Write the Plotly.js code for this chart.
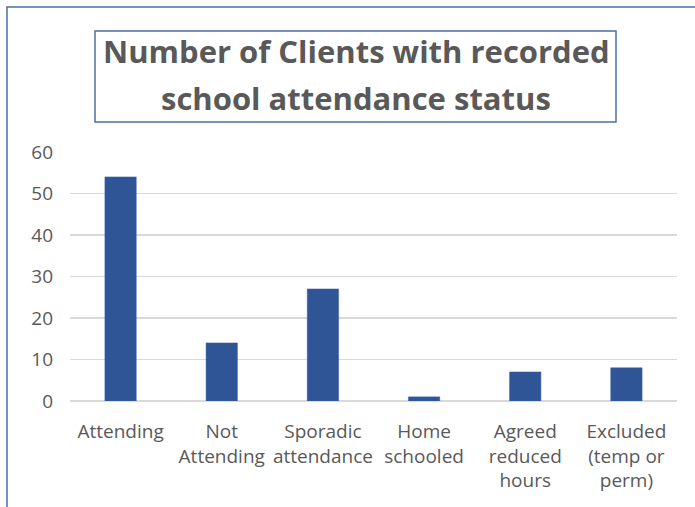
<!DOCTYPE html>
<html>
<head>
<meta charset="utf-8">
<script src="https://cdn.plot.ly/plotly-3.0.1.min.js"></script>
<style>html,body{margin:0;padding:0;background:#fff;}#chart{width:695px;height:507px;}</style>
</head>
<body>
<div id="chart"></div>
<script>
const categories = ["Attending", "Not<br>Attending", "Sporadic<br>attendance", "Home<br>schooled", "Agreed<br>reduced<br>hours", "Excluded<br>(temp or<br>perm)"];
const clientCounts = [54, 14, 27, 1, 7, 8];
const yTickValues = [0, 10, 20, 30, 40, 50, 60];
const titleLines = ["Number of Clients with recorded", "school attendance status"];

const FONT = "'Open Sans', 'Noto Sans', sans-serif";
const TXT = "#595959";

const trace = {
  type: "bar",
  x: categories,
  y: clientCounts,
  marker: { color: "#2F5597", line: { color: "#3A63A8", width: 0.5 } },
  hoverinfo: "none"
};

const layout = {
  width: 695,
  height: 507,
  margin: { l: 70, r: 18, t: 152, b: 106 },
  paper_bgcolor: "#ffffff",
  plot_bgcolor: "#ffffff",
  showlegend: false,
  bargap: 0.69,
  font: { family: FONT, color: TXT, size: 19 },
  xaxis: {
    type: "category",
    showgrid: false,
    showline: false,
    zeroline: false,
    ticks: "",
    tickfont: { family: FONT, size: 19, color: TXT },
    ticklabelstandoff: 17
  },
  yaxis: {
    range: [0, 60],
    tickvals: yTickValues,
    ticktext: yTickValues.map(String),
    showgrid: true,
    gridcolor: "#D9D9D9",
    gridwidth: 1.5,
    zeroline: true,
    zerolinecolor: "#D9D9D9",
    zerolinewidth: 1.5,
    showline: false,
    ticks: "",
    tickfont: { family: FONT, size: 19, color: TXT },
    ticklabelstandoff: 16
  },
  shapes: [
    { type: "rect", xref: "paper", yref: "paper", x0: -0.1038, x1: 1.2, y0: -0.8, y1: 1.5823,
      line: { color: "#4A6FA5", width: 1.5 }, fillcolor: "rgba(0,0,0,0)", layer: "below" },
    { type: "rect", xref: "paper", yref: "paper", x0: 0.0412, x1: 0.8995, y0: 1.1205, y1: 1.4859,
      line: { color: "#4A6FA5", width: 1.5 }, fillcolor: "rgba(0,0,0,0)", layer: "below" }
  ],
  annotations: [
    { xref: "paper", yref: "paper", x: 0.4712, y: 1 + (152 - 51) / 249, xanchor: "center", yanchor: "middle",
      text: "<b>" + titleLines[0] + "</b>", showarrow: false, font: { family: FONT, size: 31, color: TXT } },
    { xref: "paper", yref: "paper", x: 0.4712, y: 1 + (152 - 98) / 249, xanchor: "center", yanchor: "middle",
      text: "<b>" + titleLines[1] + "</b>", showarrow: false, font: { family: FONT, size: 31, color: TXT } }
  ]
};

Plotly.newPlot("chart", [trace], layout, { staticPlot: true, displayModeBar: false });
</script>
</body>
</html>
